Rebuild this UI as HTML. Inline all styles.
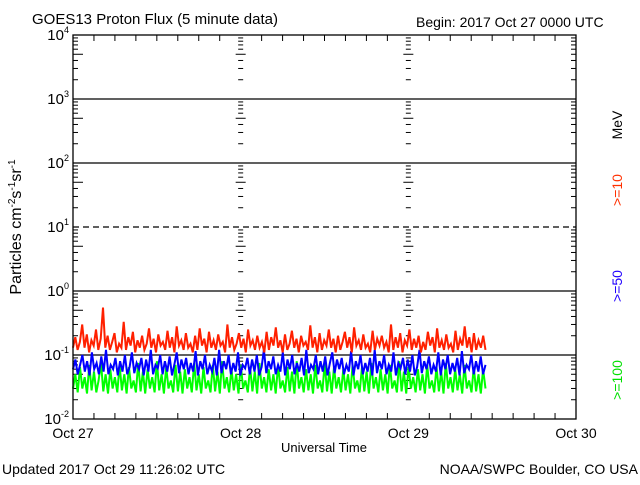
<!DOCTYPE html>
<html><head><meta charset="utf-8"><style>
body{margin:0;background:#fff;width:640px;height:480px;overflow:hidden;font-family:"Liberation Sans",sans-serif}
svg text{font-family:"Liberation Sans",sans-serif}
</style></head><body>
<svg id="chart" width="640" height="480" viewBox="0 0 640 480">
<text x="32" y="24" font-size="15">GOES13 Proton Flux (5 minute data)</text>
<text x="416" y="27" font-size="14">Begin: 2017 Oct 27 0000 UTC</text>
<text transform="translate(21,227) rotate(-90)" text-anchor="middle" font-size="16">Particles cm<tspan dy="-6" font-size="10">-2</tspan><tspan dy="6">s</tspan><tspan dy="-6" font-size="10">-1</tspan><tspan dy="6">sr</tspan><tspan dy="-6" font-size="10">-1</tspan></text>
<text x="324" y="452" text-anchor="middle" font-size="13">Universal Time</text>
<text x="2" y="474" font-size="14">Updated 2017 Oct 29 11:26:02 UTC</text>
<text x="638" y="474" text-anchor="end" font-size="14">NOAA/SWPC Boulder, CO USA</text>
<text transform="translate(622,125) rotate(-90)" text-anchor="middle" font-size="14">MeV</text>
<text transform="translate(622,190) rotate(-90)" text-anchor="middle" font-size="14" fill="#ff3000">&gt;=10</text>
<text transform="translate(622,286) rotate(-90)" text-anchor="middle" font-size="14" fill="#2000ff">&gt;=50</text>
<text transform="translate(622,380) rotate(-90)" text-anchor="middle" font-size="14" fill="#00e000">&gt;=100</text>
<g id="g"></g>
</svg>
<script>
const days=["Oct 27","Oct 28","Oct 29","Oct 30"];
const decades=[-2,-1,0,1,2,3,4];
const red=[0.13,0.19,0.12,0.16,0.3,0.13,0.21,0.11,0.17,0.14,0.25,0.12,0.18,0.55,0.13,0.2,0.12,0.16,0.22,0.11,0.15,0.13,0.33,0.12,0.19,0.14,0.23,0.11,0.17,0.13,0.2,0.12,0.15,0.26,0.13,0.18,0.11,0.21,0.14,0.16,0.12,0.24,0.13,0.19,0.11,0.28,0.14,0.17,0.12,0.22,0.13,0.15,0.11,0.2,0.12,0.26,0.14,0.18,0.11,0.23,0.13,0.17,0.12,0.21,0.14,0.16,0.11,0.3,0.13,0.19,0.12,0.15,0.22,0.13,0.18,0.11,0.25,0.14,0.17,0.12,0.2,0.13,0.16,0.11,0.23,0.12,0.19,0.14,0.27,0.13,0.17,0.11,0.21,0.12,0.15,0.24,0.13,0.18,0.11,0.2,0.14,0.16,0.12,0.29,0.13,0.19,0.11,0.22,0.12,0.17,0.14,0.25,0.13,0.18,0.11,0.2,0.12,0.16,0.23,0.13,0.19,0.11,0.27,0.14,0.17,0.12,0.21,0.13,0.15,0.11,0.24,0.12,0.18,0.14,0.2,0.13,0.16,0.11,0.3,0.12,0.19,0.13,0.22,0.11,0.17,0.14,0.25,0.12,0.18,0.13,0.2,0.11,0.16,0.12,0.23,0.14,0.19,0.11,0.26,0.13,0.17,0.12,0.21,0.13,0.15,0.11,0.24,0.12,0.18,0.14,0.28,0.13,0.19,0.11,0.22,0.12,0.17,0.13,0.2,0.12];
const blue=[0.06,0.085,0.05,0.07,0.1,0.055,0.08,0.048,0.11,0.06,0.075,0.05,0.095,0.055,0.12,0.05,0.07,0.06,0.09,0.048,0.08,0.055,0.1,0.05,0.065,0.11,0.052,0.075,0.06,0.09,0.048,0.085,0.055,0.12,0.05,0.07,0.062,0.1,0.05,0.08,0.055,0.095,0.048,0.07,0.11,0.052,0.085,0.06,0.09,0.05,0.075,0.055,0.115,0.048,0.08,0.06,0.1,0.05,0.07,0.055,0.09,0.048,0.12,0.052,0.08,0.06,0.1,0.05,0.075,0.055,0.11,0.048,0.07,0.062,0.09,0.05,0.085,0.055,0.1,0.048,0.065,0.12,0.052,0.08,0.06,0.095,0.05,0.07,0.055,0.11,0.048,0.085,0.06,0.1,0.05,0.075,0.055,0.09,0.048,0.12,0.052,0.07,0.06,0.1,0.05,0.08,0.055,0.095,0.048,0.075,0.11,0.052,0.085,0.06,0.09,0.05,0.07,0.055,0.115,0.048,0.08,0.06,0.1,0.05,0.075,0.055,0.09,0.048,0.12,0.052,0.08,0.06,0.1,0.05,0.07,0.055,0.11,0.048,0.075,0.062,0.09,0.05,0.085,0.055,0.1,0.048,0.065,0.12,0.052,0.08,0.06,0.095,0.05,0.07,0.055,0.11,0.048,0.085,0.06,0.1,0.05,0.075,0.055,0.09,0.048,0.115,0.052,0.07,0.06,0.1,0.05,0.08,0.055,0.095,0.05,0.07];
const green=[0.03,0.05,0.026,0.065,0.03,0.045,0.025,0.07,0.028,0.055,0.026,0.04,0.075,0.027,0.05,0.025,0.06,0.03,0.045,0.026,0.07,0.028,0.05,0.025,0.065,0.03,0.04,0.026,0.075,0.027,0.055,0.025,0.06,0.03,0.045,0.026,0.08,0.028,0.05,0.025,0.065,0.03,0.04,0.026,0.07,0.027,0.055,0.025,0.06,0.03,0.045,0.026,0.075,0.028,0.05,0.025,0.065,0.03,0.04,0.026,0.07,0.027,0.055,0.025,0.08,0.03,0.045,0.026,0.06,0.028,0.05,0.025,0.07,0.03,0.04,0.026,0.065,0.027,0.055,0.025,0.075,0.03,0.045,0.026,0.06,0.028,0.05,0.025,0.07,0.03,0.04,0.026,0.065,0.027,0.055,0.025,0.08,0.03,0.045,0.026,0.06,0.028,0.05,0.025,0.07,0.03,0.04,0.026,0.075,0.027,0.055,0.025,0.065,0.03,0.045,0.026,0.06,0.028,0.05,0.025,0.07,0.03,0.04,0.026,0.065,0.027,0.055,0.025,0.075,0.03,0.045,0.026,0.06,0.028,0.05,0.025,0.07,0.03,0.04,0.026,0.08,0.027,0.055,0.025,0.065,0.03,0.045,0.026,0.06,0.028,0.05,0.025,0.07,0.03,0.04,0.026,0.065,0.027,0.055,0.025,0.075,0.03,0.045,0.026,0.06,0.028,0.05,0.025,0.07,0.03,0.04,0.026,0.065,0.027,0.05,0.025,0.06,0.03];
const dataEndDay=2.46;
const X0=73,X1=576,Y0=35,Y1=419;
const NS="http://www.w3.org/2000/svg",g=document.getElementById('g');
function xs(d){return X0+(X1-X0)*d/3;}
function ys(v){return Y1-(Math.log10(v)+2)*(Y1-Y0)/6;}
function el(t,a){const e=document.createElementNS(NS,t);for(const k in a)e.setAttribute(k,a[k]);g.appendChild(e);return e;}
decades.forEach(p=>{if(p===-2||p===4)return;const l=el('line',{x1:X0,x2:X1,y1:ys(Math.pow(10,p)),y2:ys(Math.pow(10,p)),stroke:'#000','stroke-width':1.3,'stroke-dasharray':p===1?'6,4':'none'});

});
decades.forEach(p=>{const y=ys(Math.pow(10,p));
const t=el('text',{x:X0-4,y:y+5,'text-anchor':'end','font-size':15});t.innerHTML='10<tspan dy="-7" font-size="9">'+p+'</tspan>';


if(p<4)for(let m=2;m<10;m++){const yy=ys(m*Math.pow(10,p));[X0,xs(1),xs(2)].forEach((xx,i)=>{const len=m===5?10:5;
const tk=el('line',{x1:i?xx-len/2:xx,x2:i?xx+len/2:xx+len,y1:yy,y2:yy,stroke:'#000'});

});
const tr=el('line',{x1:X1-5,x2:X1,y1:yy,y2:yy,stroke:'#000'});

}});
days.forEach((d,i)=>{const x=xs(i);const t=el('text',{x:x,y:438,'text-anchor':'middle','font-size':14});t.textContent=d;

});
for(let h=1;h<24;h++){const x=xs(h/8);if(h%8===0)continue;
const a=el('line',{x1:x,x2:x,y1:Y1,y2:Y1-6,stroke:'#000'});


const b=el('line',{x1:x,x2:x,y1:Y0,y2:Y0+6,stroke:'#000'});

}
[[green,'#00ff00','series-100mev'],[blue,'#0000ff','series-50mev'],[red,'#ff2000','series-10mev']].forEach(([arr,c,n])=>{
const pts=arr.map((v,i)=>xs(dataEndDay*i/(arr.length-1)).toFixed(1)+','+ys(v).toFixed(1)).join(' ');
const p=el('polyline',{points:pts,fill:'none',stroke:c,'stroke-width':2});

});
const f=el('rect',{x:X0,y:Y0,width:X1-X0,height:Y1-Y0,fill:'none',stroke:'#000','stroke-width':1.3});


</script>
</body></html>
